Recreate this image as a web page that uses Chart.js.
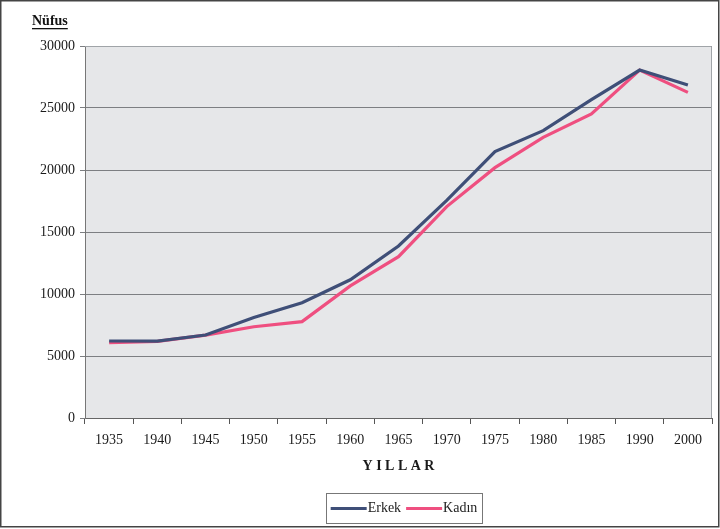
<!DOCTYPE html>
<html>
<head>
<meta charset="utf-8">
<script src="https://cdn.jsdelivr.net/npm/chart.js@4/dist/chart.umd.min.js"></script>
<style>
html,body{margin:0;padding:0;background:#fff;}
#wrap{width:720px;height:529px;position:relative;}
</style>
</head>
<body>
<div id="wrap"><canvas id="c" width="720" height="529"></canvas></div>
<script>
const years = ['1935','1940','1945','1950','1955','1960','1965','1970','1975','1980','1985','1990','2000'];
const erkek = [6210, 6200, 6690, 8100, 9300, 11150, 13870, 17550, 21480, 23170, 25670, 28060, 26850];
const kadin = [6070, 6180, 6690, 7360, 7770, 10650, 13010, 17050, 20190, 22630, 24520, 28060, 26260];
const yTicks = [0, 5000, 10000, 15000, 20000, 25000, 30000];
const seriesNames = ['Erkek', 'Kadın'];
const seriesColors = ['#3f4f78', '#ef4f80'];
const yTitle = 'Nüfus';
const xTitle = 'Y I L L A R';

const serif = "'Liberation Serif', 'Times New Roman', serif";

const decor = {
  id: 'decor',
  beforeDraw(chart) {
    const {ctx, chartArea: a} = chart;
    ctx.save();
    ctx.fillStyle = '#e6e7e9';
    ctx.fillRect(a.left, a.top, a.right - a.left, a.bottom - a.top);
    ctx.restore();
  },
  afterDraw(chart) {
    const {ctx, chartArea: a} = chart;
    ctx.save();
    ctx.strokeStyle = '#a0a4a8';
    ctx.lineWidth = 1;
    ctx.beginPath();
    ctx.moveTo(a.left, a.top + 0.5);
    ctx.lineTo(a.right - 0.5, a.top + 0.5);
    ctx.lineTo(a.right - 0.5, a.bottom);
    ctx.stroke();
    // y title
    ctx.fillStyle = '#111';
    ctx.font = 'bold 14px ' + serif;
    ctx.textBaseline = 'alphabetic';
    ctx.textAlign = 'left';
    ctx.fillText(yTitle, 32, 25);
    const w = ctx.measureText(yTitle).width;
    ctx.fillRect(32, 28, w, 1.3);
    // legend
    ctx.font = '14px ' + serif;
    const lineW = 36;
    const items = chart.data.datasets.map(d => ({label: d.label, color: d.borderColor, tw: ctx.measureText(d.label).width}));
    const gap = 5;
    let total = 0;
    items.forEach((it, i) => { total += lineW + 1 + it.tw + (i < items.length - 1 ? gap : 0); });
    const boxL = 326, boxR = 482, boxT = 493, boxB = 523;
    ctx.fillStyle = '#fff';
    ctx.fillRect(boxL, boxT, boxR - boxL, boxB - boxT);
    ctx.strokeStyle = '#777';
    ctx.lineWidth = 1;
    ctx.strokeRect(boxL + 0.5, boxT + 0.5, boxR - boxL, boxB - boxT);
    let x = (boxL + boxR) / 2 - total / 2;
    const cy = (boxT + boxB) / 2 + 0.5;
    items.forEach(it => {
      ctx.strokeStyle = it.color;
      ctx.lineWidth = 3;
      ctx.beginPath();
      ctx.moveTo(x, cy);
      ctx.lineTo(x + lineW, cy);
      ctx.stroke();
      x += lineW + 1;
      ctx.fillStyle = '#222';
      ctx.textBaseline = 'middle';
      ctx.fillText(it.label, x, cy);
      x += it.tw + gap;
    });
    ctx.strokeStyle = '#444';
    ctx.lineWidth = 1.5;
    ctx.strokeRect(0.75, 0.75, 718, 526);
    ctx.restore();
  }
};

new Chart(document.getElementById('c'), {
  type: 'line',
  data: {
    labels: years,
    datasets: [
      {label: seriesNames[0], data: erkek, borderColor: seriesColors[0], backgroundColor: seriesColors[0], borderWidth: 3.2, pointRadius: 0, tension: 0},
      {label: seriesNames[1], data: kadin, borderColor: seriesColors[1], backgroundColor: seriesColors[1], borderWidth: 3.2, pointRadius: 0, tension: 0}
    ]
  },
  options: {
    responsive: false,
    animation: false,
    devicePixelRatio: 1,
    layout: {padding: {left: 10, right: 8, top: 46, bottom: 52}},
    plugins: {legend: {display: false}, tooltip: {enabled: false}, title: {display: false}},
    scales: {
      x: {
        offset: true,
        grid: {display: true, drawOnChartArea: false, drawTicks: true, tickLength: 6, color: '#555', offset: true},
        border: {color: '#666', width: 1},
        ticks: {font: {family: serif, size: 14}, color: '#1a1a1a', padding: 8, maxRotation: 0, autoSkip: false},
        title: {display: true, text: xTitle, font: {family: serif, size: 14, weight: 'bold'}, color: '#1a1a1a', padding: {top: 4, bottom: 2}},
        afterFit(s) { s.height = 59; }
      },
      y: {
        min: 0, max: 30000,
        afterBuildTicks(s) { s.ticks = yTicks.map(v => ({value: v})); },
        grid: {color: '#7d7f82', lineWidth: 1, tickLength: 5, drawTicks: true},
        border: {color: '#777', width: 1},
        ticks: {font: {family: serif, size: 14}, color: '#1a1a1a', padding: 5, callback: v => String(v)},
        afterFit(s) { s.width = 75; }
      }
    }
  },
  plugins: [decor]
});
</script>
</body>
</html>
